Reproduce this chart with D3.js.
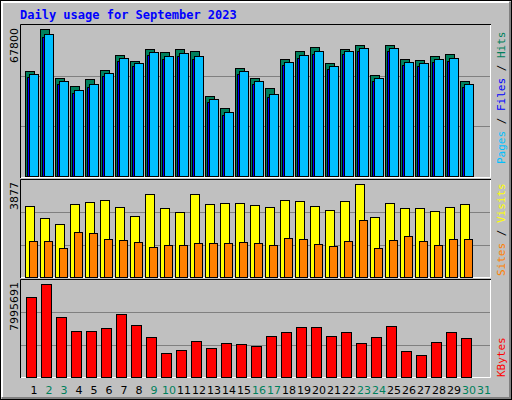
<!DOCTYPE html>
<html><head><meta charset="utf-8">
<script src="https://cdn.jsdelivr.net/npm/d3@7"></script>
<style>body{margin:0;background:#fff}</style>
</head><body>
<svg width="512" height="400"></svg>
<script>
var days = d3.range(1, 32);
var weekend = [2, 3, 9, 10, 16, 17, 23, 24, 30, 31];
var hits = [47460,66440,44300,40680,43840,47910,54690,51980,57400,56050,57400,56500,36160,30740,48820,44300,39780,52880,56500,58310,51080,57400,59210,45650,59210,52880,52430,54240,55140,42940];
var files = [44740,62820,41580,37510,40220,45200,51980,49720,54690,52880,54240,52880,33440,27570,46100,41580,35700,50170,53340,55140,48360,55140,56500,42940,56500,50170,49720,51530,51980,40220];
var pages = [46100,64180,42940,38870,41580,46560,53340,51080,56050,54240,55600,54240,34800,28930,47460,42940,37060,51530,54690,56500,49720,56500,57860,44300,57860,51530,51080,52880,53340,41580];
var visits = [2840,2360,2120,2920,3000,3080,2800,2440,3320,2760,2600,3320,2920,2960,2960,2880,2800,3080,3040,2840,2680,3040,3720,2400,2960,2760,2760,2640,2800,2920];
var sites = [1440,1440,1160,1800,1760,1520,1480,1400,1200,1280,1280,1360,1360,1360,1400,1360,1280,1560,1520,1320,1240,1440,2280,1160,1480,1640,1440,1280,1520,1520];
var kbytes = [6594000,7666000,4946000,3792000,3792000,4039000,5193000,4286000,3297000,1978000,2226000,2967000,2390000,2803000,2720000,2555000,3380000,3709000,4121000,4121000,3380000,3709000,2803000,3297000,4204000,2143000,1813000,2885000,3709000,3215000];
var maxHits = 67800, maxVisits = 3877, maxKB = 7995691;

var svg = d3.select("svg");
svg.append("rect").attr("width", 512).attr("height", 400).attr("fill", "#C0C0C0");
// 3D outer frame
svg.append("rect").attr("x", 0.5).attr("y", 0.5).attr("width", 511).attr("height", 399).attr("fill", "none").attr("stroke", "#000");
svg.append("path").attr("d", "M2,397V2H509").attr("stroke", "#fff").attr("stroke-width", 2).attr("fill", "none");
svg.append("path").attr("d", "M2,398H510V2").attr("stroke", "#808080").attr("stroke-width", 2).attr("fill", "none");

svg.append("text").attr("x", 20).attr("y", 19)
    .attr("font-family", "DejaVu Sans Mono").attr("font-weight", "bold").attr("font-size", 12)
    .attr("fill", "#0000FF").text("Daily usage for September 2023");

var x = d3.scaleBand().domain(days).range([25, 490]);

var panels = [
  {top: 26, bottom: 176, max: maxHits, y: null},
  {top: 180, bottom: 277, max: maxVisits},
  {top: 280, bottom: 377, max: maxKB}
];
panels.forEach(function(p) {
  p.y = d3.scaleLinear().domain([0, p.max]).range([p.bottom, p.top]);
  var g = svg.append("g");
  [1/3, 2/3].forEach(function(f) {
    g.append("line").attr("x1", 21).attr("x2", 490)
      .attr("y1", Math.round(p.y(p.max * f)) + 0.5).attr("y2", Math.round(p.y(p.max * f)) + 0.5)
      .attr("stroke", "#808080");
  });
  svg.append("text").attr("transform", "translate(18," + (p.top + 2) + ") rotate(-90)")
    .attr("text-anchor", "end").attr("font-family", "DejaVu Sans").attr("font-size", 11)
    .attr("fill", "#000").text(p.max);
});
// panel borders
[[24,178],[179,278],[279,378]].forEach(function(b) {
  svg.append("path").attr("d", "M20.5," + b[1] + "V" + (b[0] + 0.5) + "H491").attr("stroke", "#000").attr("fill", "none");
  svg.append("path").attr("d", "M21," + (b[1] - 0.5) + "H490.5V" + (b[0] + 1)).attr("stroke", "#fff").attr("fill", "none");
});

function bars(data, y, off, w, color) {
  svg.append("g").selectAll("rect").data(data).enter().append("rect")
    .attr("x", function(d, i) { return x(days[i]) + off + 0.5; })
    .attr("y", function(d) { return Math.round(y(d)) + 0.5; })
    .attr("width", w)
    .attr("height", function(d) { return Math.round(y(0) - y(d)); })
    .attr("fill", color).attr("stroke", "#000");
}
bars(hits, panels[0].y, 0, 9, "#00805C");
bars(files, panels[0].y, 2, 9, "#0000FF");
bars(pages, panels[0].y, 4, 9, "#00C0FF");
bars(visits, panels[1].y, 0, 9, "#FFFF00");
bars(sites, panels[1].y, 4, 8, "#FF8000");
bars(kbytes, panels[2].y, 1, 10, "#FF0000");

// day labels
svg.append("g").selectAll("text").data(days).enter().append("text")
  .attr("x", function(d) { return x(d) + 9; }).attr("y", 394)
  .attr("text-anchor", "middle").attr("font-family", "DejaVu Sans").attr("font-size", 11)
  .attr("fill", function(d) { return weekend.indexOf(d) >= 0 ? "#00805C" : "#000"; })
  .text(function(d) { return d; });

// right side legends
function legend(yEnd, parts) {
  var t = svg.append("text").attr("transform", "translate(505," + yEnd + ") rotate(-90)")
    .attr("font-family", "DejaVu Sans Mono").attr("font-size", 11);
  parts.forEach(function(p) { t.append("tspan").attr("fill", p[1]).text(p[0]); });
}
legend(164, [["Pages", "#00C0FF"], [" / ", "#000"], ["Files", "#0000FF"], [" / ", "#000"], ["Hits", "#00805C"]]);
legend(276, [["Sites", "#FF8000"], [" / ", "#000"], ["Visits", "#FFFF00"]]);
legend(377, [["KBytes", "#FF0000"]]);
</script>
</body></html>
